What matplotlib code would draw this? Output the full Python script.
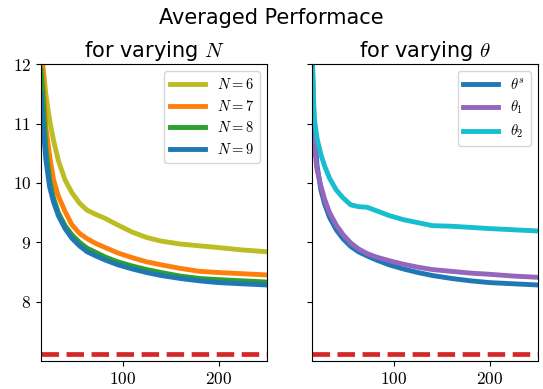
import numpy as np
import matplotlib
matplotlib.use('Agg')
import matplotlib.pyplot as plt

plt.rcParams['mathtext.fontset'] = 'cm'
plt.rcParams['axes.formatter.use_mathtext'] = True

# sample positions (iterations)
steps = [15, 17, 20, 24, 28, 33, 40, 47, 55, 63, 72, 82, 95, 110, 125, 140, 160, 180, 200, 225, 250]

# left panel: varying N
perf_n6 = [12.5, 12.0, 11.5, 11.05, 10.72, 10.38, 10.05, 9.84, 9.66, 9.54, 9.47, 9.40, 9.29, 9.17, 9.08, 9.02, 8.97, 8.94, 8.91, 8.87, 8.84]
perf_n7 = [12.3, 11.8, 10.95, 10.45, 10.06, 9.78, 9.52, 9.30, 9.15, 9.06, 8.98, 8.91, 8.82, 8.74, 8.67, 8.62, 8.56, 8.51, 8.49, 8.47, 8.45]
perf_n8 = [11.9, 11.5, 10.6, 10.05, 9.75, 9.50, 9.28, 9.13, 9.00, 8.90, 8.83, 8.75, 8.67, 8.60, 8.54, 8.49, 8.43, 8.39, 8.37, 8.35, 8.33]
perf_n9 = [11.5, 11.0, 10.4, 9.93, 9.68, 9.45, 9.23, 9.07, 8.94, 8.84, 8.77, 8.70, 8.62, 8.55, 8.49, 8.44, 8.39, 8.35, 8.32, 8.30, 8.28]

# right panel: varying theta
perf_ts = [12.1, 11.0, 10.3, 9.88, 9.64, 9.42, 9.21, 9.06, 8.93, 8.84, 8.77, 8.70, 8.62, 8.55, 8.49, 8.44, 8.39, 8.35, 8.32, 8.30, 8.28]
perf_t1 = [11.0, 10.65, 10.22, 9.95, 9.72, 9.50, 9.29, 9.13, 8.99, 8.89, 8.81, 8.75, 8.69, 8.63, 8.58, 8.54, 8.51, 8.48, 8.46, 8.43, 8.41]
perf_t2 = [12.2, 11.1, 10.75, 10.48, 10.28, 10.08, 9.88, 9.75, 9.63, 9.60, 9.59, 9.53, 9.45, 9.38, 9.33, 9.28, 9.27, 9.25, 9.23, 9.21, 9.19]

baseline = 7.11

n_labels = ['$N=6$', '$N=7$', '$N=8$', '$N=9$']
t_labels = [r'$\theta^s$', r'$\theta_1$', r'$\theta_2$']

fig = plt.figure(figsize=(5.43, 3.89), dpi=100)
ax1 = fig.add_axes([0.0755, 0.072, 0.416, 0.763])
ax2 = fig.add_axes([0.575, 0.072, 0.416, 0.763], sharey=ax1)

lw = 3.5
for ys, c, lab in zip([perf_n6, perf_n7, perf_n8, perf_n9],
                      ['tab:olive', 'tab:orange', 'tab:green', 'tab:blue'], n_labels):
    ax1.plot(steps, ys, color=c, lw=lw, label=lab)
for ys, c, lab in zip([perf_ts, perf_t1, perf_t2],
                      ['tab:blue', 'tab:purple', 'tab:cyan'], t_labels):
    ax2.plot(steps, ys, color=c, lw=lw, label=lab)

for ax in [ax1, ax2]:
    ax.axhline(baseline, color='tab:red', lw=3.4, ls='--')
    ax.set_xlim(15, 250)
    ax.set_ylim(7, 12)
    ax.set_xticks([100, 200])
    ax.set_yticks([8, 9, 10, 11, 12])
    ax.legend(loc='upper right', fontsize=10.5, handlelength=2.4,
              labelspacing=0.45, borderaxespad=0.5)
    for lab in ax.get_xticklabels() + ax.get_yticklabels():
        lab.set_fontfamily('cmr10')
        lab.set_fontsize(12.5)

plt.setp(ax2.get_yticklabels(), visible=False)

ax1.set_title('for varying $N$', fontsize=15, pad=5)
ax2.set_title(r'for varying $\theta$', fontsize=15, pad=5)
fig.text(0.5, 0.955, 'Averaged Performace', ha='center', va='center', fontsize=15)

fig.savefig('out.png', dpi=100)
